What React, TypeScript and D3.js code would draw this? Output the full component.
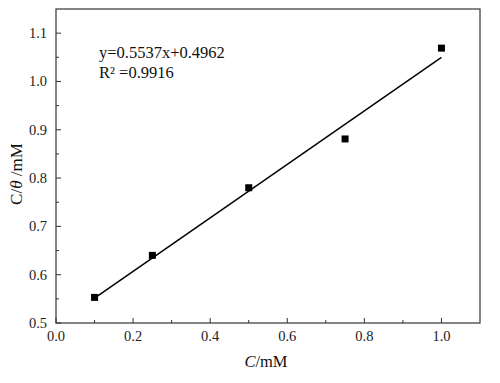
import React from "react";
import * as d3 from "d3";

const xValues = [0.1, 0.25, 0.5, 0.75, 1.0];
const yValues = [0.553, 0.64, 0.78, 0.881, 1.069];
const slope = 0.5537;
const intercept = 0.4962;
const xTicks = [0.0, 0.2, 0.4, 0.6, 0.8, 1.0];
const yTicks = [0.5, 0.6, 0.7, 0.8, 0.9, 1.0, 1.1];
const eqLines = ["y=0.5537x+0.4962", "R² =0.9916"];

export default function App() {
  const W = 500, H = 383;
  const left = 56, right = 480, top = 9, bottom = 323;
  const x = d3.scaleLinear().domain([0, 1.1]).range([left, right]);
  const y = d3.scaleLinear().domain([0.5, 1.15]).range([bottom, top]);
  const font = "'Liberation Serif', 'Times New Roman', serif";
  const xMinor = d3.range(0.1, 1.1, 0.2);
  const yMinor = d3.range(0.55, 1.15, 0.1);
  const line = d3.line<number>().x((d) => x(d)).y((d) => y(slope * d + intercept));
  const axisColor = "#333";
  return (
    <svg width={W} height={H} style={{ position: "absolute", left: 0, top: 0, fontFamily: font }}>
      <rect x={0} y={0} width={W} height={H} fill="#fff" />
      <rect x={left} y={top} width={right - left} height={bottom - top} fill="none" stroke={axisColor} strokeWidth={1.2} />
      {xTicks.map((t) => (
        <g key={"xt" + t}>
          <line x1={x(t)} x2={x(t)} y1={bottom} y2={bottom - 5} stroke={axisColor} />
          <text x={x(t)} y={bottom + 18} textAnchor="middle" fontSize={14.5} fill="#222">{t.toFixed(1)}</text>
        </g>
      ))}
      {xMinor.map((t) => (
        <line key={"xm" + t} x1={x(t)} x2={x(t)} y1={bottom} y2={bottom - 3} stroke={axisColor} />
      ))}
      {yTicks.map((t) => (
        <g key={"yt" + t}>
          <line x1={left} x2={left + 5} y1={y(t)} y2={y(t)} stroke={axisColor} />
          <text x={left - 9} y={y(t) + 5} textAnchor="end" fontSize={14.5} fill="#222">{t.toFixed(1)}</text>
        </g>
      ))}
      {yMinor.map((t) => (
        <line key={"ym" + t} x1={left} x2={left + 3} y1={y(t)} y2={y(t)} stroke={axisColor} />
      ))}
      <path d={line([xValues[0], xValues[xValues.length - 1]]) || ""} stroke="#000" strokeWidth={1.5} fill="none" />
      {xValues.map((v, i) => (
        <rect key={"p" + i} x={x(v) - 3.5} y={y(yValues[i]) - 3.5} width={7} height={7} fill="#000" />
      ))}
      {eqLines.map((s, i) => (
        <text key={"eq" + i} x={99} y={58 + i * 20} fontSize={16.5} fill="#111">{s}</text>
      ))}
      <text x={266} y={367} textAnchor="middle" fontSize={16.5} fill="#111">
        <tspan fontStyle="italic">C</tspan>/mM
      </text>
      <text transform={`translate(22,174) rotate(-90)`} textAnchor="middle" fontSize={17} fill="#111">
        <tspan>C</tspan>/<tspan fontStyle="italic">θ</tspan> /mM
      </text>
    </svg>
  );
}
